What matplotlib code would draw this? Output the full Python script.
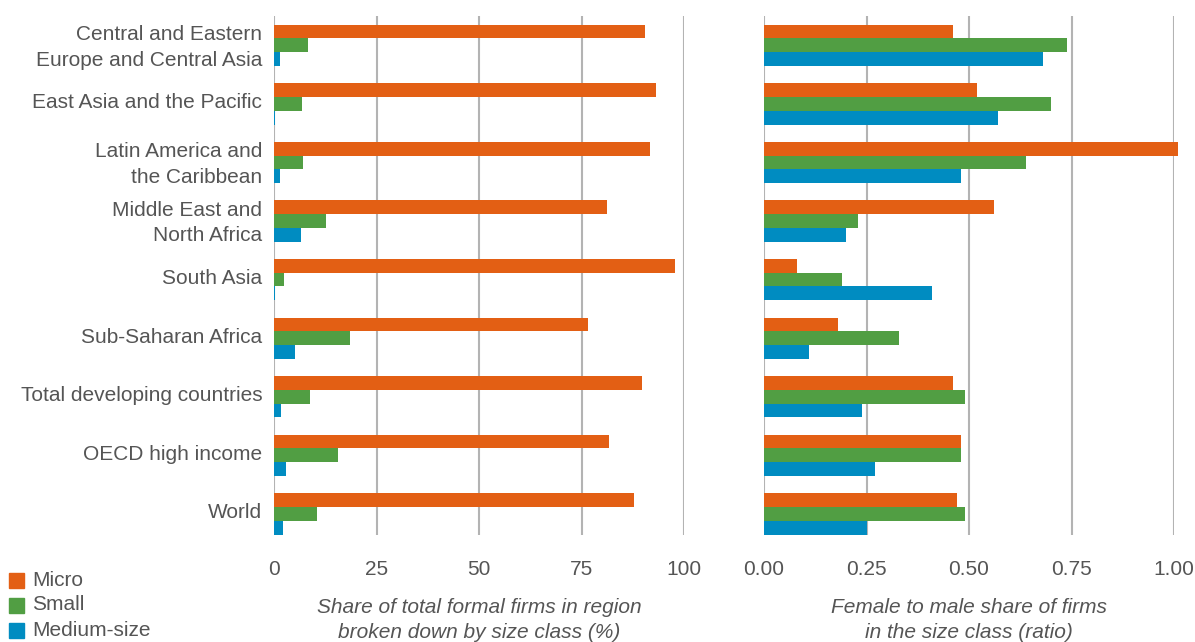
import matplotlib
matplotlib.use("Agg")
import matplotlib.pyplot as plt
import matplotlib.transforms as mtransforms
import numpy as np
from matplotlib.patches import Rectangle

plt.rcParams['font.family'] = ['Liberation Sans', 'DejaVu Sans']

regions = [
    "Central and Eastern\nEurope and Central Asia",
    "East Asia and the Pacific",
    "Latin America and\nthe Caribbean",
    "Middle East and\nNorth Africa",
    "South Asia",
    "Sub-Saharan Africa",
    "Total developing countries",
    "OECD high income",
    "World",
]
series = ["Micro", "Small", "Medium-size"]

share_micro = [90.5, 93.2, 91.7, 81.2, 97.8, 76.6, 89.8, 81.7, 87.8]
share_small = [8.3, 6.8, 7.1, 12.7, 2.4, 18.5, 8.8, 15.6, 10.5]
share_medium = [1.5, 0.3, 1.5, 6.6, 0.3, 5.1, 1.7, 2.9, 2.2]

ratio_micro = [0.46, 0.52, 1.01, 0.56, 0.08, 0.18, 0.46, 0.48, 0.47]
ratio_small = [0.74, 0.70, 0.64, 0.23, 0.19, 0.33, 0.49, 0.48, 0.49]
ratio_medium = [0.68, 0.57, 0.48, 0.20, 0.41, 0.11, 0.24, 0.27, 0.25]

left_ticks = [0, 25, 50, 75, 100]
left_ticklabels = ["0", "25", "50", "75", "100"]
right_ticks = [0, 0.25, 0.5, 0.75, 1.0]
right_ticklabels = ["0.00", "0.25", "0.50", "0.75", "1.00"]

left_label = "Share of total formal firms in region\nbroken down by size class (%)"
right_label = "Female to male share of firms\nin the size class (ratio)"

colors = ["#E35F14", "#519E43", "#008CC1"]
text_color = "#555555"
grid_color = "#b3b3b3"
FS = 15

fig = plt.figure(figsize=(11.95, 6.42), dpi=100)
ax1 = fig.add_axes([274/1195, 1-535/642, 410/1195, 519/642])
ax2 = fig.add_axes([764/1195, 1-535/642, 410/1195, 519/642])

y = np.arange(len(regions))
h = 0.235

def draw(ax, data, xlim, ticks, ticklabels, label, show_y):
    for i, (vals, c) in enumerate(zip(data, colors)):
        ax.barh(y + (i - 1) * h, vals, height=h, color=c, clip_on=False, zorder=3)
    ax.set_xlim(*xlim)
    ax.set_ylim(8.36, -0.5)
    ax.set_xticks(ticks)
    ax.set_xticklabels(ticklabels)
    for s in ax.spines.values():
        s.set_visible(False)
    ax.grid(axis='x', color=grid_color, linewidth=1.5, zorder=0)
    ax.tick_params(axis='x', length=0, labelsize=FS, labelcolor=text_color, pad=18)
    ax.tick_params(axis='y', length=0, labelsize=FS, labelcolor=text_color, pad=8.5)
    if show_y:
        ax.set_yticks(y)
        ax.set_yticklabels(regions, linespacing=1.42)
        shift = mtransforms.ScaledTranslation(0, 3/100, fig.dpi_scale_trans)
        for t in ax.get_yticklabels():
            t.set_transform(t.get_transform() + shift)
    else:
        ax.set_yticks([])
    ax.set_xlabel(label, fontsize=FS, color=text_color, style='italic', labelpad=13.5, linespacing=1.42)

draw(ax1, [share_micro, share_small, share_medium], (0, 100), left_ticks, left_ticklabels, left_label, True)
draw(ax2, [ratio_micro, ratio_small, ratio_medium], (0, 1.0), right_ticks, right_ticklabels, right_label, False)

# legend
for i, (name, c) in enumerate(zip(series, colors)):
    yy = 1 - (580 + i * 25) / 642
    fig.patches.append(Rectangle((9/1195, yy - 7.5/642), 15/1195, 15/642, transform=fig.transFigure,
                                 color=c, figure=fig))
    fig.text(32/1195, yy, name, fontsize=FS, color=text_color, va='center', ha='left')

fig.savefig("out.png", dpi=100)
